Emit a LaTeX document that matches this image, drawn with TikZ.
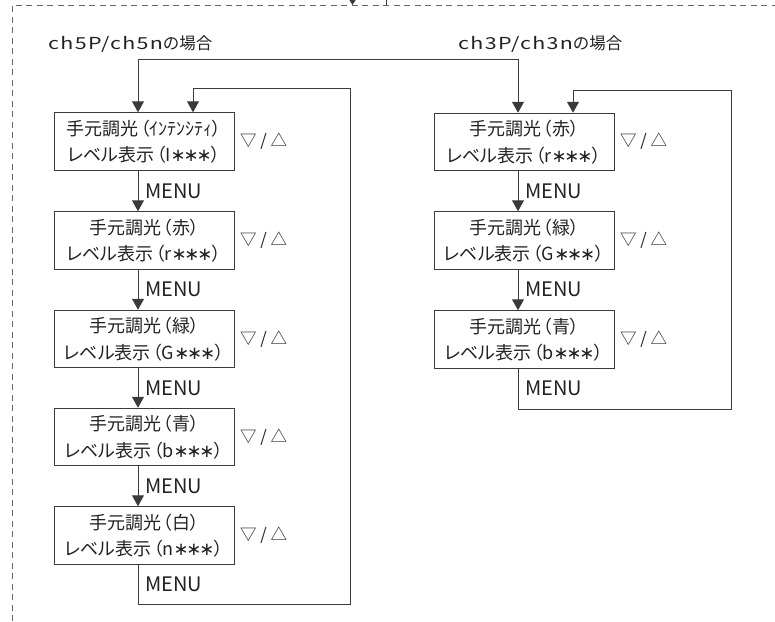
\documentclass[tikz,border=0pt]{standalone}
\usepackage{fontspec}
\setmainfont{Noto Sans CJK JP}
\newfontfamily\latw[FakeStretch=1.3,LetterSpace=8]{Noto Sans CJK JP}
\newfontfamily\boxf[RawFeature=+palt]{Noto Sans CJK JP}
\newfontfamily\astf{DejaVu Sans}
\usetikzlibrary{arrows.meta}
\definecolor{linec}{HTML}{3A3A3A}
\definecolor{textc}{HTML}{222222}
\definecolor{framec}{HTML}{666666}
\newcommand{\stars}{{\astf ∗\kern-2.2pt∗\kern-2.2pt∗}}
\newcommand{\lp}{\kern2pt（}
\newcommand{\rp}{）}
\begin{document}
\begin{tikzpicture}[x=1pt,y=-1pt,
 box/.style={draw=linec, line width=1pt, minimum width=180pt, minimum height=57.5pt, inner sep=0pt, align=center, font=\boxf\fontsize{18}{26.5}\selectfont, text=textc},
 lbl/.style={font=\fontsize{16.5}{18}\selectfont, text=textc, anchor=west, inner sep=0pt},
 menu/.style={font=\fontsize{20}{22}\selectfont, text=textc, anchor=west, inner sep=0pt},
 conn/.style={draw=linec, line width=1pt},
 arr/.style={conn, -{Triangle[width=12pt,length=11pt]}},
 frame/.style={draw=framec, dash pattern=on 6pt off 4.5pt, line width=0.9pt}]
\useasboundingbox (0,0) rectangle (775,621);
% frame
\coordinate (fa) at (12,621);
\coordinate (fb) at (12,5);
\coordinate (fc) at (775,5);
\draw[frame] (fa) -- (fb) -- (fc);
\coordinate (ta) at (352.5,-2);
\coordinate (tb) at (352.5,5);
\draw[conn, -{Triangle[width=6pt,length=5pt]}] (ta) -- (tb);
\coordinate (tc) at (386.5,0);
\coordinate (td) at (386.5,5);
\draw[conn] (tc) -- (td);
% headings
\node[lbl] (h5) at (48,44) {{\latw ch5P/ch5n}の場合};
\node[lbl] (h3) at (458,44) {{\latw ch3P/ch3n}の場合};
% left boxes
\node[box] (L1) at (144,141.5) {手元調光\lp ｲﾝﾃﾝｼﾃｨ\rp\\レベル表示\lp I\stars\rp};
\node[box] (L2) at (144,240.5) {手元調光\lp 赤\rp\\レベル表示\lp r\stars\rp};
\node[box] (L3) at (144,339) {手元調光\lp 緑\rp\\レベル表示\lp G\stars\rp};
\node[box] (L4) at (144,437) {手元調光\lp 青\rp\\レベル表示\lp b\stars\rp};
\node[box] (L5) at (144,535.5) {手元調光\lp 白\rp\\レベル表示\lp n\stars\rp};
% right boxes
\node[box] (R1) at (524,142) {手元調光\lp 赤\rp\\レベル表示\lp r\stars\rp};
\node[box] (R2) at (524,240.5) {手元調光\lp 緑\rp\\レベル表示\lp G\stars\rp};
\node[box] (R3) at (524,339.5) {手元調光\lp 青\rp\\レベル表示\lp b\stars\rp};
% up/down labels
\foreach \n/\y in {L1/141, L2/240, L3/339, L4/437, L5/535}{
  \node[lbl] (ud\n) at (240,\y) {▽ / △};
}
\foreach \n/\y in {R1/141, R2/240, R3/339}{
  \node[lbl] (ud\n) at (620,\y) {▽ / △};
}
% menu labels
\foreach \n/\y in {a/191, b/289, c/388, d/486, e/584}{
  \node[menu] (mL\n) at (145,\y) {MENU};
}
\foreach \n/\y in {a/191, b/289, c/388}{
  \node[menu] (mR\n) at (525,\y) {MENU};
}
% entry connectors
\coordinate (e1) at (138,59);
\coordinate (e2) at (518,59);
\draw[arr] (e2) -- (e1) -- (L1.north -| e1);
\draw[arr] (e2) -- (R1.north -| e2);
% left chain
\draw[arr] (L1.south -| e1) -- (L2.north -| e1);
\draw[arr] (L2.south -| e1) -- (L3.north -| e1);
\draw[arr] (L3.south -| e1) -- (L4.north -| e1);
\draw[arr] (L4.south -| e1) -- (L5.north -| e1);
% left loop
\coordinate (lb1) at (138,604);
\coordinate (lb2) at (350,604);
\coordinate (lt2) at (350,88);
\coordinate (lt1) at (193,88);
\draw[arr] (L5.south -| e1) -- (lb1) -- (lb2) -- (lt2) -- (lt1) -- (L1.north -| lt1);
% right chain
\draw[arr] (R1.south -| e2) -- (R2.north -| e2);
\draw[arr] (R2.south -| e2) -- (R3.north -| e2);
% right loop
\coordinate (rb1) at (518,409);
\coordinate (rb2) at (731,409);
\coordinate (rt2) at (731,90);
\coordinate (rt1) at (573,90);
\draw[arr] (R3.south -| e2) -- (rb1) -- (rb2) -- (rt2) -- (rt1) -- (R1.north -| rt1);
\end{tikzpicture}
\end{document}
